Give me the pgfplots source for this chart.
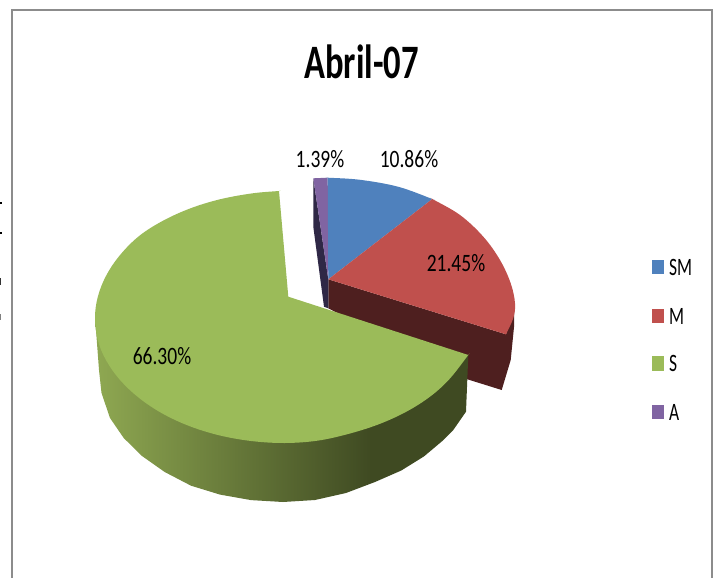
\documentclass[border=0pt]{standalone}
\usepackage{pgfplots}
\pgfplotsset{compat=1.18}
\usepackage{fontspec}
\setmainfont{Carlito}
\definecolor{cblue}{HTML}{4F81BD}
\definecolor{cred}{HTML}{C0504D}
\definecolor{cgreen}{HTML}{9BBB59}
\definecolor{cpurple}{HTML}{8064A2}
\definecolor{dred}{HTML}{4E1F1F}
\definecolor{dpurple}{HTML}{2F2846}
\definecolor{frame}{HTML}{8C8C8C}
\pgfdeclarehorizontalshading{greenside}{100bp}{
  rgb(0bp)=(0.56,0.66,0.32);
  rgb(25bp)=(0.56,0.66,0.32);
  rgb(62bp)=(0.247,0.290,0.133);
  rgb(100bp)=(0.247,0.290,0.133)}
\newcommand{\lab}[4]{\node[anchor=#1,inner sep=0pt,text=black] at (axis cs:#2,#3) {#4};}
\newcommand{\tx}[1]{\fontsize{25}{25}\selectfont\scalebox{0.78}[1]{#1}}
\newcommand{\lx}[1]{\fontsize{25}{25}\selectfont\scalebox{0.7}[1]{#1}}
\begin{document}
\begin{tikzpicture}
\begin{axis}[
  scale only axis, width=713pt, height=578pt,
  xmin=0, xmax=713, ymin=0, ymax=578, y dir=reverse,
  hide axis, clip=true]
% page
\addplot[draw=none, fill=white] coordinates {(0,0) (713,0) (713,578) (0,578)} --cycle;
% frame
\addplot[frame, line width=2pt, no marks] coordinates {(12,578) (12,10) (712,10) (712,578)};
% left residue
\addplot[black, line width=1.5pt, no marks] coordinates {(0,203) (2,203)};
\addplot[black, line width=1.5pt, no marks] coordinates {(0,233) (2,233)};
\addplot[black!80, line width=1.5pt, no marks] coordinates {(0.5,278) (0.5,285)};
\addplot[black!50, line width=1pt, no marks] coordinates {(0.5,314) (0.5,320)};
% red side
\addplot[draw=none, fill=dred] coordinates {(328.3,279.3) (506,334.3) (514,310) (514,327) (510.7,360) (501.7,390) (460,377) (328.3,308.3)} --cycle;
% purple side
\addplot[draw=none, fill=dpurple] coordinates {(313.3,178.3) (313.3,226.7) (324,306.7) (328.3,308.3) (328.3,279.3)} --cycle;
% purple
\addplot[draw=none, fill=cpurple] coordinates {(313.3,178.3) (327.7,177.7) (328.3,279.3)} --cycle;
% blue
\addplot[draw=none, fill=cblue, smooth, tension=0.6] coordinates {(327.7,177.7) (327.7,177.7) (360,179.8) (398,186.7) (432.3,199) (432.3,199)} -- (axis cs:328.3,279.3) --cycle;
% red
\addplot[draw=none, fill=cred, smooth, tension=0.6] coordinates {(432.3,199) (432.3,199) (460,215) (483.3,236.7) (500,260) (510.7,283.3) (515,303.3) (513.3,318) (506,334.3) (506,334.3)} -- (axis cs:328.3,279.3) --cycle;
% green side
\addplot[draw=none, shading=greenside] coordinates {(95,320) (96,330) (99,370) (101.5,393) (110,418) (123.7,438) (142,456) (164.7,472) (191,485.7) (220,494.6) (251,500.1) (283,502) (315,500) (346,493) (375,482) (401.3,470.5) (424,456.4) (442.3,441) (453.3,430) (466,411.7) (468.3,355)} --cycle;
% green top
\addplot[draw=none, fill=cgreen, smooth, tension=0.6] coordinates {(279,191) (279,191) (252,193.4) (220,199.3) (190,208.5) (162.9,220.8) (139.5,235.7) (120.5,254.5) (106.5,275) (97.9,296.5) (95,318) (97.9,340.5) (106.5,361) (120.5,380.5) (139.5,398.3) (162.9,413.8) (190,426.3) (220,435.5) (252,441.1) (285,443) (318,440.6) (350,433.5) (380,423.8) (407.1,411.3) (430.5,396.3) (449.5,379) (468.3,355) (468.3,355)} -- (axis cs:288.3,296.7) --cycle;
% legend keys
\addplot[draw=none, fill=cblue] coordinates {(652,260) (664,260) (664,274) (652,274)} --cycle;
\addplot[draw=none, fill=cred] coordinates {(652,309) (664,309) (664,323) (652,323)} --cycle;
\addplot[draw=none, fill=cgreen] coordinates {(652,356) (664,356) (664,371) (652,371)} --cycle;
\addplot[draw=none, fill=cpurple] coordinates {(652,405) (664,405) (664,419) (652,419)} --cycle;
% text
\lab{center}{361.5}{62}{\fontsize{48}{48}\selectfont\bfseries\scalebox{0.72}[1]{Abril-07}}
\lab{center}{320}{159}{\tx{1.39\%}}
\lab{center}{409}{159}{\tx{10.86\%}}
\lab{center}{456}{263}{\tx{21.45\%}}
\lab{center}{162}{356}{\tx{66.30\%}}
\lab{west}{669}{267}{\lx{SM}}
\lab{west}{669}{316}{\lx{M}}
\lab{west}{669}{363}{\lx{S}}
\lab{west}{669}{412}{\lx{A}}
\end{axis}
\end{tikzpicture}
\end{document}
